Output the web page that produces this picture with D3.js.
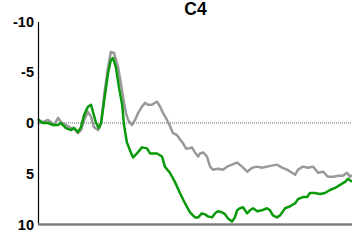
<!DOCTYPE html>
<html><head><meta charset="utf-8">
<script src="https://cdn.jsdelivr.net/npm/d3@7"></script>
<style>body{margin:0;background:#fff}svg{display:block}</style>
</head><body>
<script>
const title = "C4";
const yTicks = [-10, -5, 0, 5, 10];
const grayT = [-100,-97,-84,-68,-59,-49,-36,-27,-11,5,15,27,37,47,59,69,78,91,101,110,123,132,142,155,164,174,180,187,199,209,219,231,241,250,263,273,279,289,298,311,320,330,343,352,362,371,381,390,400,410,416,426,438,448,457,473,489,502,518,534,550,566,582,598,613,629,645,661,677,693,709,719,728,744,760,776,792,808,824,840,856,871,884,894,900];
const grayV = [0.1,0.0,-0.1,-0.3,-0.1,0.2,-0.5,-0.1,0.2,0.5,0.5,1.0,0.7,-0.3,-1.1,-0.6,0.4,0.7,0.0,-2.6,-5.5,-7.0,-6.9,-5.5,-3.9,-2.0,-1.0,-0.3,0.2,-0.3,-1.0,-1.6,-2.0,-1.8,-1.8,-2.0,-2.1,-1.6,-1.0,-0.3,0.3,1.0,1.2,1.6,2.0,2.5,2.5,2.4,2.9,3.3,3.0,2.9,3.3,4.3,4.6,4.5,4.6,4.3,4.1,3.9,4.3,4.8,4.4,4.3,4.4,4.3,4.2,4.1,4.4,4.6,4.9,5.1,4.6,4.3,4.4,4.3,4.9,4.8,5.3,5.3,5.2,5.2,4.9,5.3,5.1];
const greenT = [-100,-97,-84,-68,-52,-36,-27,-11,5,15,27,37,47,59,69,75,85,94,101,110,123,132,139,148,158,168,174,183,193,203,215,231,247,257,279,295,304,320,336,352,368,384,400,410,422,432,441,454,464,473,486,496,505,518,527,534,543,553,566,575,585,598,613,629,639,648,661,671,687,703,719,728,744,757,766,782,798,814,830,846,862,878,887,900];
const greenV = [-0.4,-0.3,0.0,0.0,0.2,0.2,0.0,0.5,0.7,0.5,0.9,0.4,-0.8,-1.6,-1.8,-1.1,0.0,0.5,0.0,-2.0,-4.9,-6.2,-6.4,-5.5,-3.5,-1.8,0.2,1.9,2.7,3.4,3.0,2.4,2.5,3.0,3.0,3.3,4.3,4.9,5.8,6.9,7.9,8.8,9.3,9.3,8.9,9.0,9.2,9.3,8.9,8.7,8.8,9.0,9.4,9.7,9.3,8.6,8.4,8.3,8.9,8.6,8.4,8.7,8.6,8.4,8.6,9.1,9.3,9.1,8.4,8.2,7.9,7.5,7.3,7.3,6.9,6.9,7.0,6.9,6.6,6.4,6.1,5.8,5.5,5.8];

const W = 352, H = 248;
const svg = d3.select("body").append("svg").attr("width", W).attr("height", H);
const x = d3.scaleLinear().domain([-100, 900]).range([38, 352]);
const y = d3.scaleLinear().domain([-10, 10]).range([21.5, 224.5]);

svg.append("text").attr("x", 195.5).attr("y", 14.5).attr("text-anchor", "middle")
  .attr("font-family", "Liberation Sans, Arial, sans-serif").attr("font-weight", "bold")
  .attr("font-size", 17.5).text(title);

// zero line
svg.append("line").attr("x1", x(-100)).attr("x2", x(900)).attr("y1", y(0)).attr("y2", y(0))
  .attr("stroke", "#666").attr("stroke-width", 1).attr("stroke-dasharray", "1,1");

const line = d3.line().x(d => x(d[0])).y(d => y(d[1]));
const grayData = grayT.map((t, i) => [t, grayV[i]]);
const greenData = greenT.map((t, i) => [t, greenV[i]]);

svg.append("path").datum(grayData).attr("d", line).attr("fill", "none")
  .attr("stroke", "#999999").attr("stroke-width", 2.5).attr("stroke-linejoin", "round");
svg.append("path").datum(greenData).attr("d", line).attr("fill", "none")
  .attr("stroke", "#0a990a").attr("stroke-width", 2.5).attr("stroke-linejoin", "round");

// left axis
const yAxis = d3.axisLeft(y).tickValues(yTicks).tickSize(0).tickPadding(4).tickFormat(d => String(d));
const ga = svg.append("g").attr("transform", "translate(38,0)").call(yAxis);
ga.select(".domain").attr("stroke", "#000").attr("stroke-width", 1.2);
ga.selectAll("text").attr("font-family", "Liberation Sans, Arial, sans-serif")
  .attr("font-weight", "bold").attr("font-size", 14.5).attr("fill", "#000");

// bottom axis
svg.append("line").attr("x1", x(-100)).attr("x2", x(900)).attr("y1", y(10)).attr("y2", y(10))
  .attr("stroke", "#808080").attr("stroke-width", 2.5);
</script>
</body></html>
